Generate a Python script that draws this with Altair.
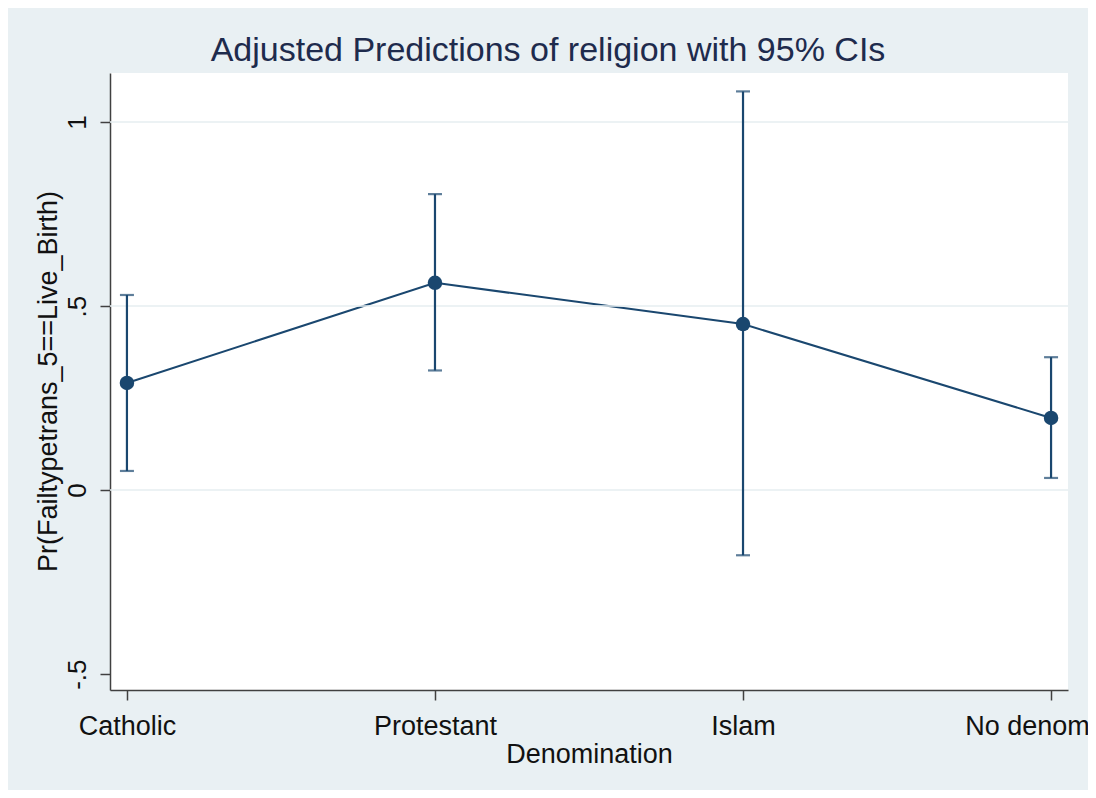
import altair as alt
import pandas as pd

# Data
categories = ["Catholic", "Protestant", "Islam", "No denomination"]
positions = [0, 1, 2, 3]
margin = [0.291, 0.563, 0.451, 0.196]
ci_low = [0.052, 0.325, -0.177, 0.033]
ci_high = [0.530, 0.804, 1.083, 0.361]
y_ticks = [-0.5, 0, 0.5, 1]
y_tick_labels = ["-.5", "0", ".5", "1"]
grid_values = [0, 0.5, 1]

df = pd.DataFrame({"pos": positions, "cat": categories, "m": margin,
                   "lo": ci_low, "hi": ci_high})
grid_df = pd.DataFrame({"g": grid_values})

NAVY = "#1a476f"
BG = "#e9f0f3"
FONT = "Liberation Sans"

x_label_expr = " : ".join(
    f"datum.value == {p} ? '{c}'" for p, c in zip(positions, categories)
) + " : ''"
y_label_expr = " : ".join(
    f"datum.value == {v} ? '{l}'" for v, l in zip(y_ticks, y_tick_labels)
) + " : ''"

x_scale = alt.Scale(domain=[-0.055, 3.055], nice=False, zero=False)
y_scale = alt.Scale(domain=[-0.543, 1.133], nice=False, zero=False)

x_axis = alt.Axis(
    values=positions, labelExpr=x_label_expr, title="Denomination",
    grid=False, tickSize=10, tickColor="#404040", domainColor="#404040",
    tickWidth=1.5, domainWidth=1.5,
    labelFont=FONT, labelFontSize=27, labelColor="#111111",
    labelBaseline="alphabetic", labelPadding=34, labelFlush=False,
    labelOverlap=False, labelBound=False,
    titleFont=FONT, titleFontSize=27, titleFontWeight="normal",
    titleColor="#111111", titleBaseline="alphabetic",
    titleX=479, titleY=72, titleAlign="center",
)
y_axis = alt.Axis(
    values=y_ticks, labelExpr=y_label_expr,
    title="Pr(Failtypetrans_5==Live_Birth)",
    grid=False, tickSize=10, tickColor="#404040", domainColor="#404040",
    tickWidth=1.5, domainWidth=1.5,
    labelFont=FONT, labelFontSize=26, labelColor="#111111",
    labelAngle=270, labelAlign="center", labelBaseline="alphabetic",
    labelPadding=15, labelFlush=False, labelOverlap=False,
    titleFont=FONT, titleFontSize=27, titleFontWeight="normal",
    titleColor="#111111", titleAngle=270, titleBaseline="alphabetic",
    titleAlign="center", titleX=-54, titleY=308,
)

Y_TITLE = "Pr(Failtypetrans_5==Live_Birth)"

base = alt.Chart(df)

line = base.mark_line(color=NAVY, strokeWidth=2).encode(
    x=alt.X("pos:Q", scale=x_scale, axis=x_axis, title="Denomination"),
    y=alt.Y("m:Q", scale=y_scale, axis=y_axis, title=Y_TITLE),
)

grid = alt.Chart(grid_df).mark_rule(color="#e6eef1", strokeWidth=1.5).encode(
    y=alt.Y("g:Q", scale=y_scale, axis=y_axis, title=Y_TITLE)
)

bars = base.mark_rule(color=NAVY, strokeWidth=2.2).encode(
    x=alt.X("pos:Q", scale=x_scale, axis=x_axis, title="Denomination"),
    y=alt.Y("lo:Q", scale=y_scale, axis=y_axis, title=Y_TITLE),
    y2="hi:Q",
)
cap_lo = base.mark_tick(color=NAVY, orient="horizontal", size=14,
                        thickness=2.2).encode(
    x=alt.X("pos:Q", scale=x_scale, axis=x_axis, title="Denomination"),
    y=alt.Y("lo:Q", scale=y_scale, axis=y_axis, title=Y_TITLE))
cap_hi = base.mark_tick(color=NAVY, orient="horizontal", size=14,
                        thickness=2.2).encode(
    x=alt.X("pos:Q", scale=x_scale, axis=x_axis, title="Denomination"),
    y=alt.Y("hi:Q", scale=y_scale, axis=y_axis, title=Y_TITLE))

points = base.mark_circle(color=NAVY, size=210, opacity=1).encode(
    x=alt.X("pos:Q", scale=x_scale, axis=x_axis, title="Denomination"),
    y=alt.Y("m:Q", scale=y_scale, axis=y_axis, title=Y_TITLE))

chart = alt.layer(line, grid, bars, cap_lo, cap_hi, points).properties(
    width=958,
    height=617,
    title=alt.TitleParams(
        "Adjusted Predictions of religion with 95% CIs",
        font=FONT, fontSize=34, fontWeight="normal", color="#1e2b4d",
        anchor="middle", frame="group", dx=-41, dy=34, offset=12,
        baseline="alphabetic",
    ),
    autosize=alt.AutoSizeParams(type="none"),
    padding={"left": 102, "top": 65, "right": 20, "bottom": 100},
).configure(background=BG).configure_view(fill="white", stroke=None)

chart.save("out.html", embed_options={"renderer": "svg", "actions": False})
